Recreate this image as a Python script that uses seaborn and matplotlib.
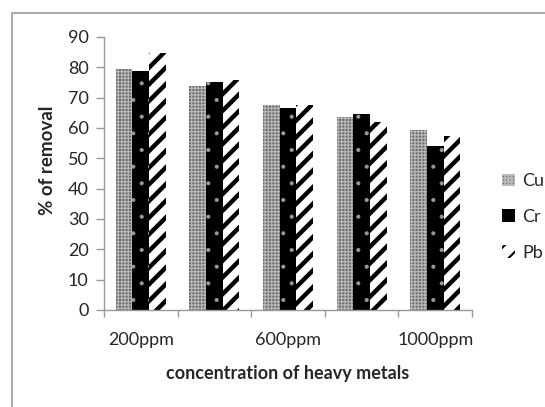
import matplotlib
matplotlib.use("Agg")
import matplotlib.pyplot as plt
import seaborn as sns
import pandas as pd
from matplotlib.patches import Patch, Rectangle

categories = ["200ppm", "400ppm", "600ppm", "800ppm", "1000ppm"]
shown_labels = ["200ppm", "", "600ppm", "", "1000ppm"]
metals = ["Cu", "Cr", "Pb"]
cu = [79.6, 74.0, 67.5, 63.5, 59.5]
cr = [78.9, 75.1, 66.5, 64.5, 54.0]
pb = [84.6, 75.8, 67.5, 62.0, 57.5]

rows = []
for m, vals in zip(metals, [cu, cr, pb]):
    for c, v in zip(categories, vals):
        rows.append({"conc": c, "removal": v, "metal": m})
df = pd.DataFrame(rows)

sns.set_style("white")
plt.rcParams["font.family"] = ["Lato", "DejaVu Sans"]

fig = plt.figure(figsize=(5.45, 4.07), dpi=100)
ax = fig.add_axes([104/545, 1-310/407, (472-104)/545, (310-37)/407])

sns.barplot(data=df, x="conc", y="removal", hue="metal", order=categories,
            hue_order=metals, palette=["#8c8c8c", "black", "white"],
            width=0.68, gap=0, legend=False, ax=ax, saturation=1)

styles = {
    "Cu": dict(facecolor="#6a6a6a", edgecolor="#b8b8b8", hatch="+++++", hlw=0.9),
    "Cr": dict(facecolor="black", edgecolor="#9a9a9a", hatch=".", hlw=0.5),
    "Pb": dict(facecolor="white", edgecolor="black", hatch="//", hlw=3.2),
}

def style_patch(p, st):
    p.set_facecolor(st["facecolor"])
    p.set_edgecolor(st["edgecolor"])
    p.set_hatch(st["hatch"])
    p.set_linewidth(0)
    if hasattr(p, "set_hatch_linewidth"):
        p.set_hatch_linewidth(st["hlw"])

for cont, m in zip(ax.containers, metals):
    for p in cont:
        style_patch(p, styles[m])

ax.set_ylim(0, 90)
ax.set_xlim(-0.5, 4.5)
ax.set_yticks(range(0, 91, 10))
ax.set_xticks([i - 0.5 for i in range(6)])
ax.set_xticklabels([])
ax.set_xticks(range(5), minor=True)
ax.set_xticklabels(shown_labels, minor=True)
ax.tick_params(axis="x", which="major", length=5, width=1, color="#999999", direction="out")
ax.tick_params(axis="x", which="minor", length=0, pad=16, labelsize=13)
ax.tick_params(axis="y", length=6, width=1, color="#999999", direction="out", labelsize=13, pad=5)
ax.tick_params(left=True, bottom=True)

for s in ["top", "right"]:
    ax.spines[s].set_visible(False)
for s in ["left", "bottom"]:
    ax.spines[s].set_color("#999999")
    ax.spines[s].set_linewidth(1)

ax.set_xlabel("concentration of heavy metals", fontsize=13, fontweight="bold", labelpad=12)
ax.set_ylabel("% of removal", fontsize=13.5, fontweight="bold", labelpad=8)
ax.yaxis.set_label_coords(-0.13, 0.55)

handles = []
for m in metals:
    st = styles[m]
    h = Patch(facecolor=st["facecolor"], edgecolor=st["edgecolor"] if m != "Cr" else "black",
              hatch=st["hatch"] if m != "Cr" else None, linewidth=0, label=m)
    handles.append(h)
leg = fig.legend(handles=handles, loc="center left", bbox_to_anchor=(495/545, 1-217/407),
                 frameon=False, fontsize=13, handlelength=0.7, handleheight=0.7,
                 handletextpad=0.4, labelspacing=1.1, borderaxespad=0)
for h in leg.legend_handles:
    if hasattr(h, "set_hatch_linewidth"):
        h.set_hatch_linewidth(1.5)

fig.patches.append(Rectangle((12/545, -0.05), 1.2, 1-13/407+0.05, transform=fig.transFigure,
                             fill=False, edgecolor="#999999", linewidth=1.2))

fig.savefig("out.png", dpi=100)
